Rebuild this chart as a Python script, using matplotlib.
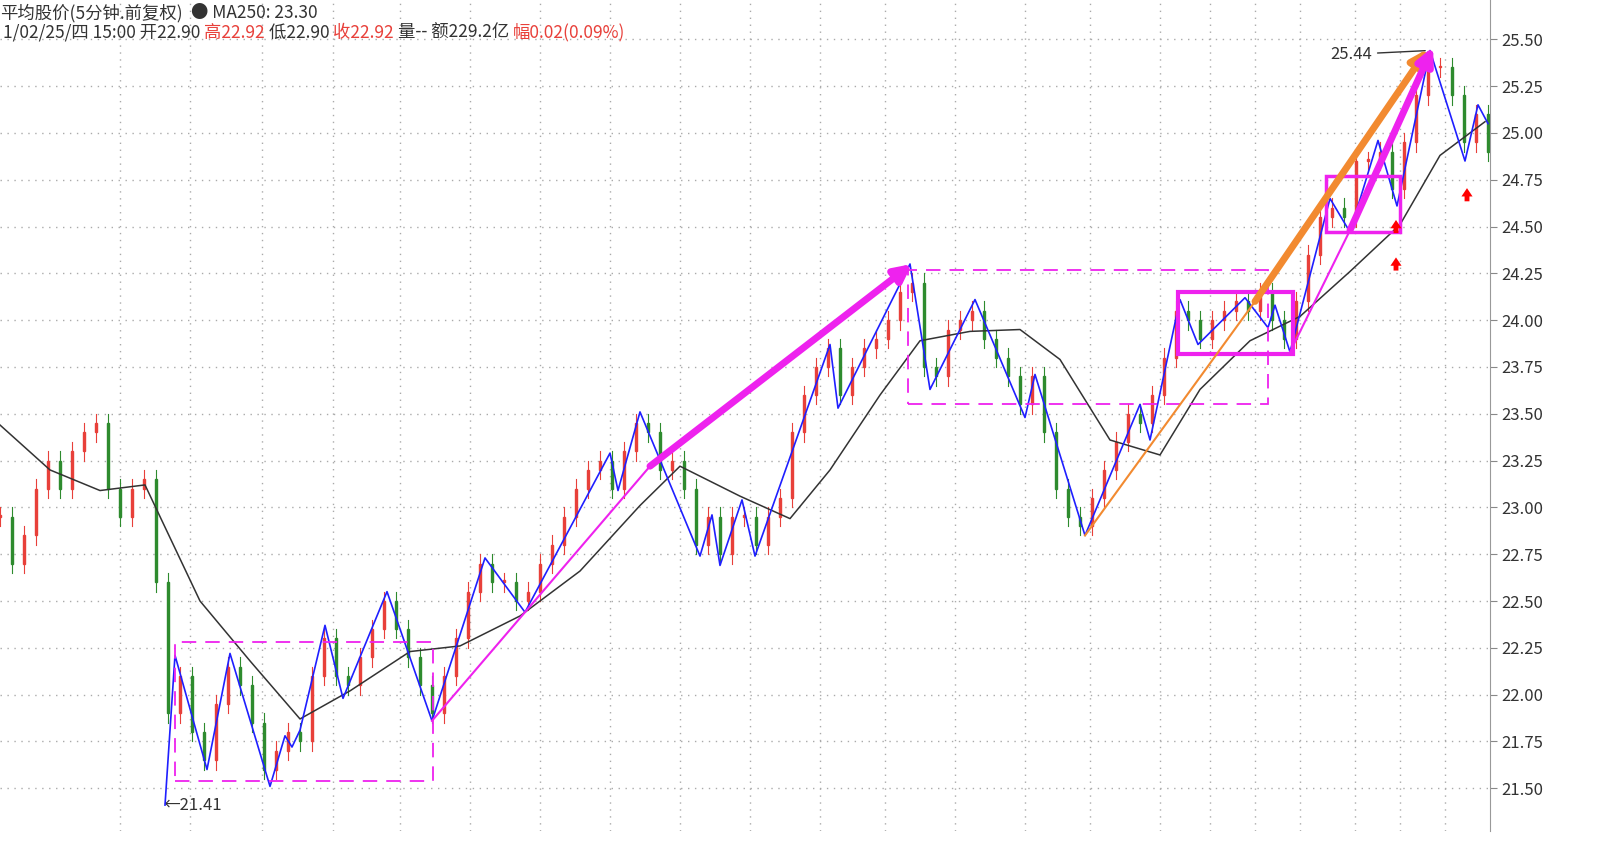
import numpy as np
import matplotlib.pyplot as plt
from matplotlib.patches import Rectangle

plt.rcParams['font.family'] = ['Noto Sans CJK SC', 'DejaVu Sans']

# 收盘价 (每12像素取一根)
close_x = list(range(0, 1489, 12))
closes = [22.95, 22.7, 22.85, 23.1, 23.25, 23.1, 23.3, 23.4, 23.45, 23.1, 22.95, 23.1, 23.15, 22.6,
          21.9, 22.1, 21.8, 21.65, 21.95, 22.15, 22.05, 21.85, 21.6, 21.7, 21.8, 21.75, 22.1, 22.3,
          22.1, 22.05, 22.2, 22.35, 22.5, 22.35, 22.2, 22.05, 21.9, 22.1, 22.3, 22.55, 22.7, 22.6,
          22.6, 22.5, 22.55, 22.7, 22.8, 22.95, 23.1, 23.2, 23.25, 23.1, 23.3, 23.45, 23.4, 23.2,
          23.25, 23.1, 22.8, 22.95, 22.75, 22.95, 22.95, 22.8, 22.95, 23.05, 23.4, 23.6, 23.75, 23.85,
          23.6, 23.75, 23.85, 23.9, 24.0, 24.15, 24.2, 23.75, 23.7, 23.95, 24.0, 24.05, 23.9, 23.8,
          23.7, 23.55, 23.7, 23.4, 23.1, 22.95, 22.9, 23.05, 23.2, 23.35, 23.5, 23.45, 23.6, 23.8,
          24.05, 24.0, 23.9, 24.0, 24.05, 24.1, 24.05, 24.15, 24.0, 23.9, 24.1, 24.35, 24.55, 24.6,
          24.55, 24.85, 24.85, 24.9, 24.7, 24.95, 25.2, 25.35, 25.35, 25.2, 24.95, 25.1, 24.9]

# 均线 MA250
ma_x = [0, 50, 100, 145, 200, 250, 300, 350, 410, 460, 520, 580, 640, 680, 740, 790, 830, 880,
        920, 970, 1020, 1060, 1110, 1160, 1200, 1250, 1300, 1350, 1400, 1440, 1485]
ma = [23.44, 23.2, 23.09, 23.12, 22.5, 22.18, 21.87, 22.02, 22.23, 22.26, 22.42, 22.66, 23.01,
      23.22, 23.06, 22.94, 23.2, 23.6, 23.89, 23.94, 23.95, 23.79, 23.36, 23.28, 23.63, 23.89,
      24.02, 24.26, 24.51, 24.88, 25.06]

# 笔 (蓝色折线)
zz_x = [165, 175, 207, 230, 270, 285, 292, 300, 325, 343, 387, 432, 485, 525, 610, 618, 640, 700,
        712, 720, 742, 755, 830, 838, 910, 930, 975, 1025, 1035, 1085, 1140, 1150, 1180, 1198,
        1245, 1268, 1275, 1290, 1330, 1350, 1378, 1397, 1430, 1465, 1478, 1488]
zz = [21.41, 22.21, 21.6, 22.22, 21.51, 21.78, 21.72, 21.81, 22.37, 21.98, 22.55, 21.86, 22.73,
      22.44, 23.29, 23.09, 23.51, 22.74, 22.96, 22.69, 23.04, 22.74, 23.87, 23.53, 24.3, 23.63,
      24.11, 23.48, 23.71, 22.85, 23.55, 23.36, 24.11, 23.87, 24.12, 23.96, 24.08, 23.83, 24.65,
      24.47, 24.96, 24.61, 25.44, 24.85, 25.15, 25.05]

fig = plt.figure(figsize=(16.15, 8.57), dpi=100)
ax = fig.add_axes([0, 0.03, 1490 / 1615, 0.97])
ax.set_xlim(0, 1490)
ax.set_ylim(21.27, 25.71)

yt = np.arange(21.5, 25.51, 0.25)
for y in yt:
    ax.axhline(y, color='#aaaaaa', ls=(0, (1, 4)), lw=1, zorder=0)
for x in [120, 190, 262, 333, 400, 470, 540, 610, 680, 750, 820, 885, 955, 1025, 1090, 1160,
          1210, 1255, 1300, 1355, 1400, 1445]:
    ax.axvline(x, color='#aaaaaa', ls=(0, (1, 4)), lw=1, zorder=0)

# K线
prev = closes[0]
for x, c in zip(close_x, closes):
    col = '#e8403a' if c >= prev else '#2e8b2e'
    lo, hi = min(prev, c), max(prev, c)
    ax.plot([x, x], [lo - 0.05, hi + 0.05], color=col, lw=0.8, zorder=2)
    ax.add_patch(Rectangle((x - 1.3, lo), 2.6, max(hi - lo, 0.01), color=col, zorder=2))
    prev = c

ax.plot(ma_x, ma, color='#333333', lw=1.1, zorder=3)
ax.plot(zz_x, zz, color='#1f1fff', lw=1.2, zorder=4)

mg = '#ee22ee'
for (x0, x1, y0, y1, ls, lw) in [(175, 433, 21.54, 22.28, (0, (8, 5)), 1.3),
                                 (908, 1268, 23.55, 24.27, (0, (8, 5)), 1.3),
                                 (1178, 1293, 23.82, 24.15, '-', 3),
                                 (1326, 1400, 24.47, 24.77, '-', 2.5)]:
    ax.add_patch(Rectangle((x0, y0), x1 - x0, y1 - y0, fill=False, ec=mg, ls=ls, lw=lw, zorder=5))

def big_arrow(p0, p1, color, lw):
    ax.annotate('', xy=p1, xytext=p0, zorder=6,
                arrowprops=dict(arrowstyle='-|>,head_length=1.0,head_width=0.5', color=color,
                                lw=lw, shrinkA=0, shrinkB=0))

ax.plot([432, 650], [21.86, 23.22], color=mg, lw=1.5, zorder=6)
big_arrow((650, 23.22), (912, 24.3), mg, 5)
ax.plot([1085, 1255], [22.85, 24.1], color='#f28a30', lw=1.5, zorder=6)
big_arrow((1255, 24.1), (1428, 25.45), '#f28a30', 5)
ax.plot([1290, 1350], [23.83, 24.48], color=mg, lw=1.5, zorder=6)
big_arrow((1350, 24.48), (1433, 25.46), mg, 5)

for x, y in [(1396, 24.5), (1396, 24.3), (1467, 24.67)]:
    ax.annotate('', xy=(x, y + 0.05), xytext=(x, y - 0.05), zorder=7,
                arrowprops=dict(arrowstyle='simple,head_length=0.6,head_width=0.8,tail_width=0.35',
                                color='red', lw=0))

ax.annotate('25.44', xy=(1428, 25.44), xytext=(1372, 25.42), fontsize=12, color='#333333',
            ha='right', va='center', arrowprops=dict(arrowstyle='-', color='#333333', lw=1))
ax.text(163, 21.41, '←21.41', fontsize=12, color='#333333', va='center', ha='left')

ax.yaxis.tick_right()
ax.set_yticks(yt)
ax.set_yticklabels([f'{v:.2f}' for v in yt], fontsize=12, color='#333333')
ax.tick_params(axis='y', length=5, color='#888888')
ax.set_xticks([])
for s in ['top', 'bottom', 'left']:
    ax.spines[s].set_visible(False)
ax.spines['right'].set_color('#999999')

fig.text(0.0, 0.985, '平均股价(5分钟.前复权)', fontsize=12.5, color='#333333', va='center')
fig.text(0.118, 0.985, '● MA250: 23.30', fontsize=12.5, color='#333333', va='center')
parts = [('1/02/25/四 15:00 开22.90 ', '#333333'), ('高22.92 ', '#e8403a'),
         ('低22.90 ', '#333333'), ('收22.92 ', '#e8403a'), ('量-- 额229.2亿 ', '#333333'),
         ('幅0.02(0.09%)', '#e8403a')]
xpos = 0.002
for t, c in parts:
    tx = fig.text(xpos, 0.962, t, fontsize=12.5, color=c, va='center')
    fig.canvas.draw()
    bb = tx.get_window_extent()
    xpos += bb.width / fig.bbox.width

fig.savefig('out.png', dpi=100)
